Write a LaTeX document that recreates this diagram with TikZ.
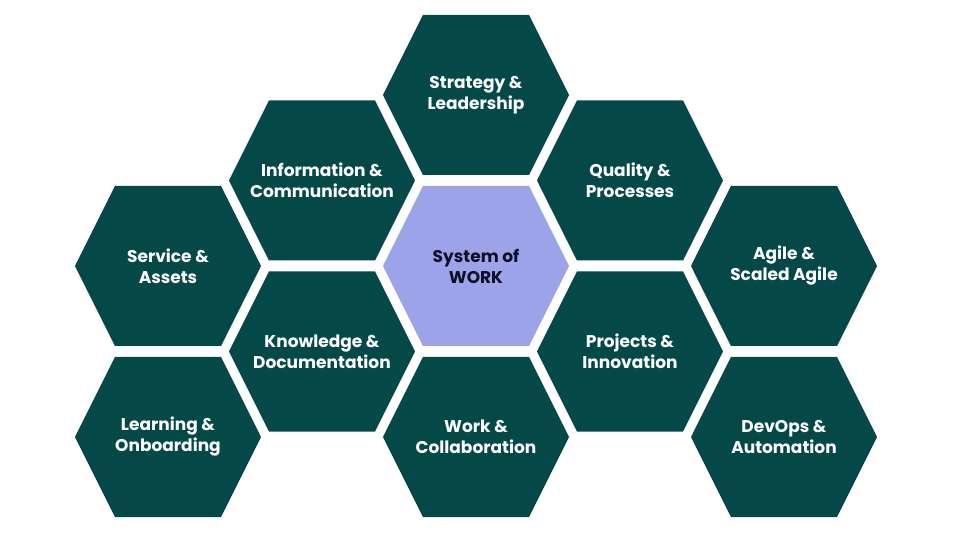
\documentclass[tikz,border=0pt]{standalone}
\usepackage{fontspec}
\setmainfont{Poppins}
\usepackage{tikz}
\usetikzlibrary{positioning,shapes.symbols}

\definecolor{hexteal}{RGB}{5,72,72}
\definecolor{hexcore}{RGB}{157,163,232}
\definecolor{coretext}{RGB}{14,14,40}

\begin{document}
\begin{tikzpicture}[x=1pt,y=1pt,on grid,node distance=171pt and 154pt,
        hexcell/.style={signal,signal to=east and west,signal pointer angle=127,
            minimum width=186pt,minimum height=160pt,inner xsep=-40pt,inner ysep=0pt,
            fill=hexteal,text=white,align=center,
            font=\fontsize{17}{21}\selectfont\bfseries},
        corecell/.style={hexcell,fill=hexcore,text=coretext}]

  \useasboundingbox (-476,-274) rectangle (484,266);

  \node[corecell] (sys) {System of\\WORK};
  \node[hexcell] (strat) [above=of sys] {Strategy \&\\Leadership};
  \node[hexcell] (work) [below=of sys] {Work \&\\Collaboration};
  \node[hexcell] (info) [above left=85.5pt and 154pt of sys] {Information \&\\Communication};
  \node[hexcell] (know) [below left=85.5pt and 154pt of sys] {Knowledge \&\\Documentation};
  \node[hexcell] (qual) [above right=85.5pt and 154pt of sys] {Quality \&\\Processes};
  \node[hexcell] (proj) [below right=85.5pt and 154pt of sys] {Projects \&\\Innovation};
  \node[hexcell] (serv) [below left=85.5pt and 154pt of info] {Service \&\\Assets};
  \node[hexcell] (learn) [below left=85.5pt and 154pt of know] {Learning \&\\Onboarding};
  \node[hexcell] (agile) [below right=85.5pt and 154pt of qual] {Agile \&\\Scaled Agile};
  \node[hexcell] (devops) [below right=85.5pt and 154pt of proj] {DevOps \&\\Automation};

\end{tikzpicture}
\end{document}
